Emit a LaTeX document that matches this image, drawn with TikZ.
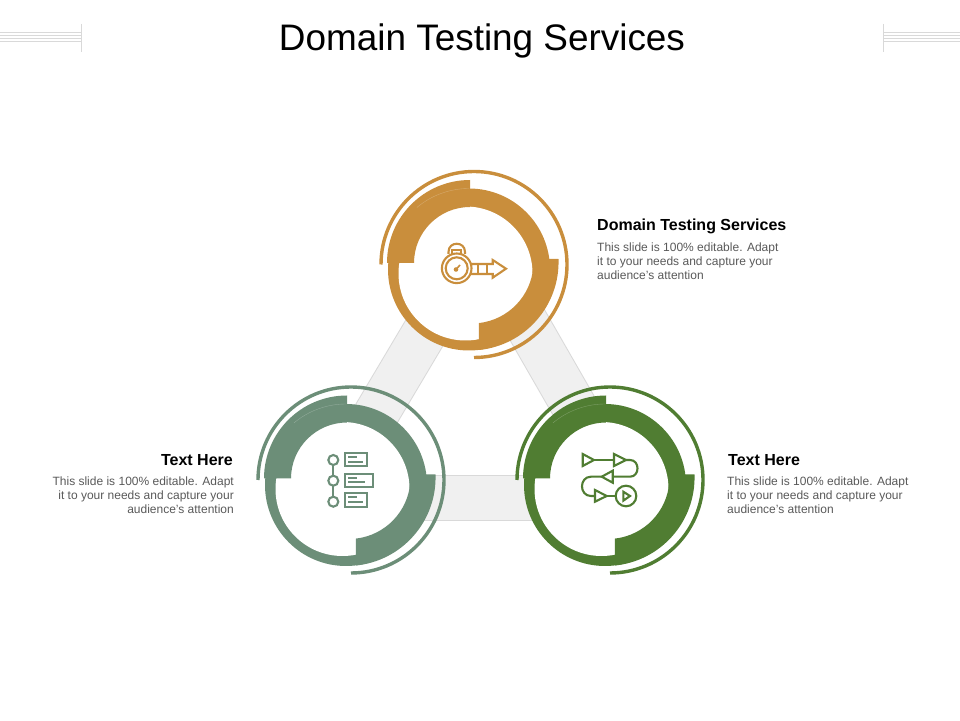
\documentclass[tikz,border=0pt]{standalone}
\usepackage{fontspec}
\setmainfont{Liberation Sans}
\definecolor{ringorange}{RGB}{201,142,60}
\definecolor{ringsage}{RGB}{108,142,120}
\definecolor{ringgreen}{RGB}{80,125,50}
\definecolor{bandgray}{RGB}{240,240,240}
\definecolor{edgegray}{RGB}{217,217,217}
\definecolor{bodygray}{RGB}{89,89,89}
\tikzset{
    pics/ringset/.style={code={
        \fill[#1] (-5,-5) circle (81);
        \fill[white] (-8.5,-9) circle (67);
        \fill[#1] (-4,84.5) arc (90:180:83) -- (-60,1.5) arc (180:90:56) -- cycle;
        \draw[white, opacity=0.25, line width=0.4pt] (-5,76) arc (90:130:81);
        \fill[#1] (84.4,5.5) -- (70,5.5) -- (59.3,-2.2) arc (-4.4:-83.5:61.5) -- (5,-85.5) arc (-84.2:1.9:88.5) -- cycle;
        \draw[#1, line width=3.4pt] (-93,0) arc (180:-90:93);
    }},
    band/.style={draw=edgegray, line width=1pt, double=bandgray, double distance=44pt},
    heading/.style={font=\fontsize{16}{19}\selectfont\bfseries, text=black, inner sep=0pt},
    bodytext/.style={font=\fontsize{12}{14.2}\selectfont, text=bodygray, inner sep=0pt},
    iconline/.style={line width=2.1pt},
    cornerline/.style={draw=edgegray, line width=0.8pt}
}
\begin{document}
\begin{tikzpicture}[x=1pt, y=1pt]
        \useasboundingbox (0, 0) rectangle (960, 720);

        % Bands
        \coordinate (bandtop) at (479, 479);
        \coordinate (bandleft) at (326, 221.5);
        \coordinate (bandright) at (627, 221.5);
        \draw[band] (bandtop) -- (bandleft);
        \draw[band] (bandtop) -- (bandright);
        \draw[band] (bandleft) -- (bandright);

        % Rings
        \pic (top) at (474, 455.5) {ringset=ringorange};
        \pic (left) at (351, 240) {ringset=ringsage};
        \pic (right) at (610, 240) {ringset=ringgreen};

        % Texts
        \node[font=\fontsize{36.9}{40}\selectfont, inner sep=0pt] at (482, 679) (title) {Domain Testing Services};
        \node[heading, anchor=base west] at (597, 489.5) (topname) {Domain Testing Services};
        \node[bodytext, align=left, anchor=north west] at (597, 477.5) (topbody) {This slide is 100\% editable. Adapt\\it to your needs and capture your\\audience's attention};
        \node[heading, anchor=base east] at (233, 254.5) (leftname) {Text Here};
        \node[bodytext, align=right, anchor=north east] at (234, 243.5) (leftbody) {This slide is 100\% editable. Adapt\\it to your needs and capture your\\audience's attention};
        \node[heading, anchor=base west] at (728, 254.5) (rightname) {Text Here};
        \node[bodytext, align=left, anchor=north west] at (727, 243.5) (rightbody) {This slide is 100\% editable. Adapt\\it to your needs and capture your\\audience's attention};

        \begin{scope}[yshift=720pt, y=-1pt]
            % Corner marks
            \draw[cornerline] (81, 24) -- (81, 52);
            \draw[cornerline] (883, 24) -- (883, 52);
            \draw[cornerline] (0, 32.5) -- (81, 32.5);
            \draw[cornerline] (0, 35.5) -- (81, 35.5);
            \draw[cornerline] (0, 38.5) -- (81, 38.5);
            \draw[cornerline] (0, 41.5) -- (81, 41.5);
            \draw[cornerline] (883, 32.5) -- (960, 32.5);
            \draw[cornerline] (883, 35.5) -- (960, 35.5);
            \draw[cornerline] (883, 38.5) -- (960, 38.5);
            \draw[cornerline] (883, 41.5) -- (960, 41.5);

            % Stopwatch
            \draw[iconline, ringorange] (456.7, 268.3) circle (14.8);
            \draw[iconline, ringorange] (456.7, 268.3) circle (11);
            \draw[iconline, ringorange] (448.5, 254) -- (448.5, 252) .. controls (448.5, 241) and (465, 241) .. (465, 252) -- (465, 254);
            \draw[iconline, ringorange] (452, 254) -- (452, 250) -- (461, 250) -- (461, 254);
            \fill[ringorange] (456, 269.5) circle (2.3);
            \draw[ringorange, line width=1.6pt] (456, 269.5) -- (460, 265);
            \draw[iconline, ringorange] (471, 264) -- (492.7, 264) -- (492.7, 260) -- (506, 268.7) -- (492.7, 277.7) -- (492.7, 274) -- (471, 274);
            \draw[iconline, ringorange] (478, 264) -- (478, 274);
            \draw[iconline, ringorange] (487, 264) -- (487, 274);

            % Timeline
            \draw[iconline, ringsage] (333.3, 465) -- (333.3, 475.7);
            \draw[iconline, ringsage] (333.3, 485.7) -- (333.3, 496.7);
            \draw[iconline, ringsage] (333.3, 460) circle (5);
            \draw[iconline, ringsage] (333.3, 480.7) circle (5);
            \draw[iconline, ringsage] (333.3, 501.7) circle (5);
            \draw[iconline, ringsage] (345, 452.7) rectangle (367.3, 466);
            \draw[iconline, ringsage] (345, 474) rectangle (372.7, 487.3);
            \draw[iconline, ringsage] (345, 493.3) rectangle (367.3, 506.7);
            \draw[iconline, ringsage] (348.3, 457.3) -- (356.7, 457.3);
            \draw[iconline, ringsage] (348.3, 461.7) -- (363.3, 461.7);
            \draw[iconline, ringsage] (348.3, 478.3) -- (356.7, 478.3);
            \draw[iconline, ringsage] (348.3, 482.3) -- (365, 482.3);
            \draw[iconline, ringsage] (348.3, 497.3) -- (356.7, 497.3);
            \draw[iconline, ringsage] (348.3, 501.7) -- (363.3, 501.7);

            % Flow
            \draw[iconline, ringgreen] (582.7, 454) -- (594, 460) -- (582.7, 466) -- cycle;
            \draw[iconline, ringgreen] (614, 454) -- (626, 460) -- (614, 466) -- cycle;
            \draw[iconline, ringgreen] (612.7, 470.7) -- (601.7, 476.7) -- (612.7, 482.7) -- cycle;
            \draw[iconline, ringgreen] (595, 490) -- (606.7, 496) -- (595, 501.7) -- cycle;
            \draw[iconline, ringgreen] (594, 460) -- (614, 460);
            \draw[iconline, ringgreen] (626, 460) -- (630, 460) .. controls (640, 460) and (640, 476.7) .. (630, 476.7) -- (612.7, 476.7);
            \draw[iconline, ringgreen] (601.7, 476.7) -- (591, 476.7) .. controls (579, 476.7) and (579, 496) .. (591, 496) -- (595, 496);
            \draw[iconline, ringgreen] (606.7, 496) -- (615.7, 496);
            \draw[iconline, ringgreen] (626, 496) circle (10.3);
            \draw[iconline, ringgreen] (623.3, 491.7) -- (630, 496) -- (623.3, 500.7) -- cycle;
        \end{scope}
    \end{tikzpicture}
\end{document}
